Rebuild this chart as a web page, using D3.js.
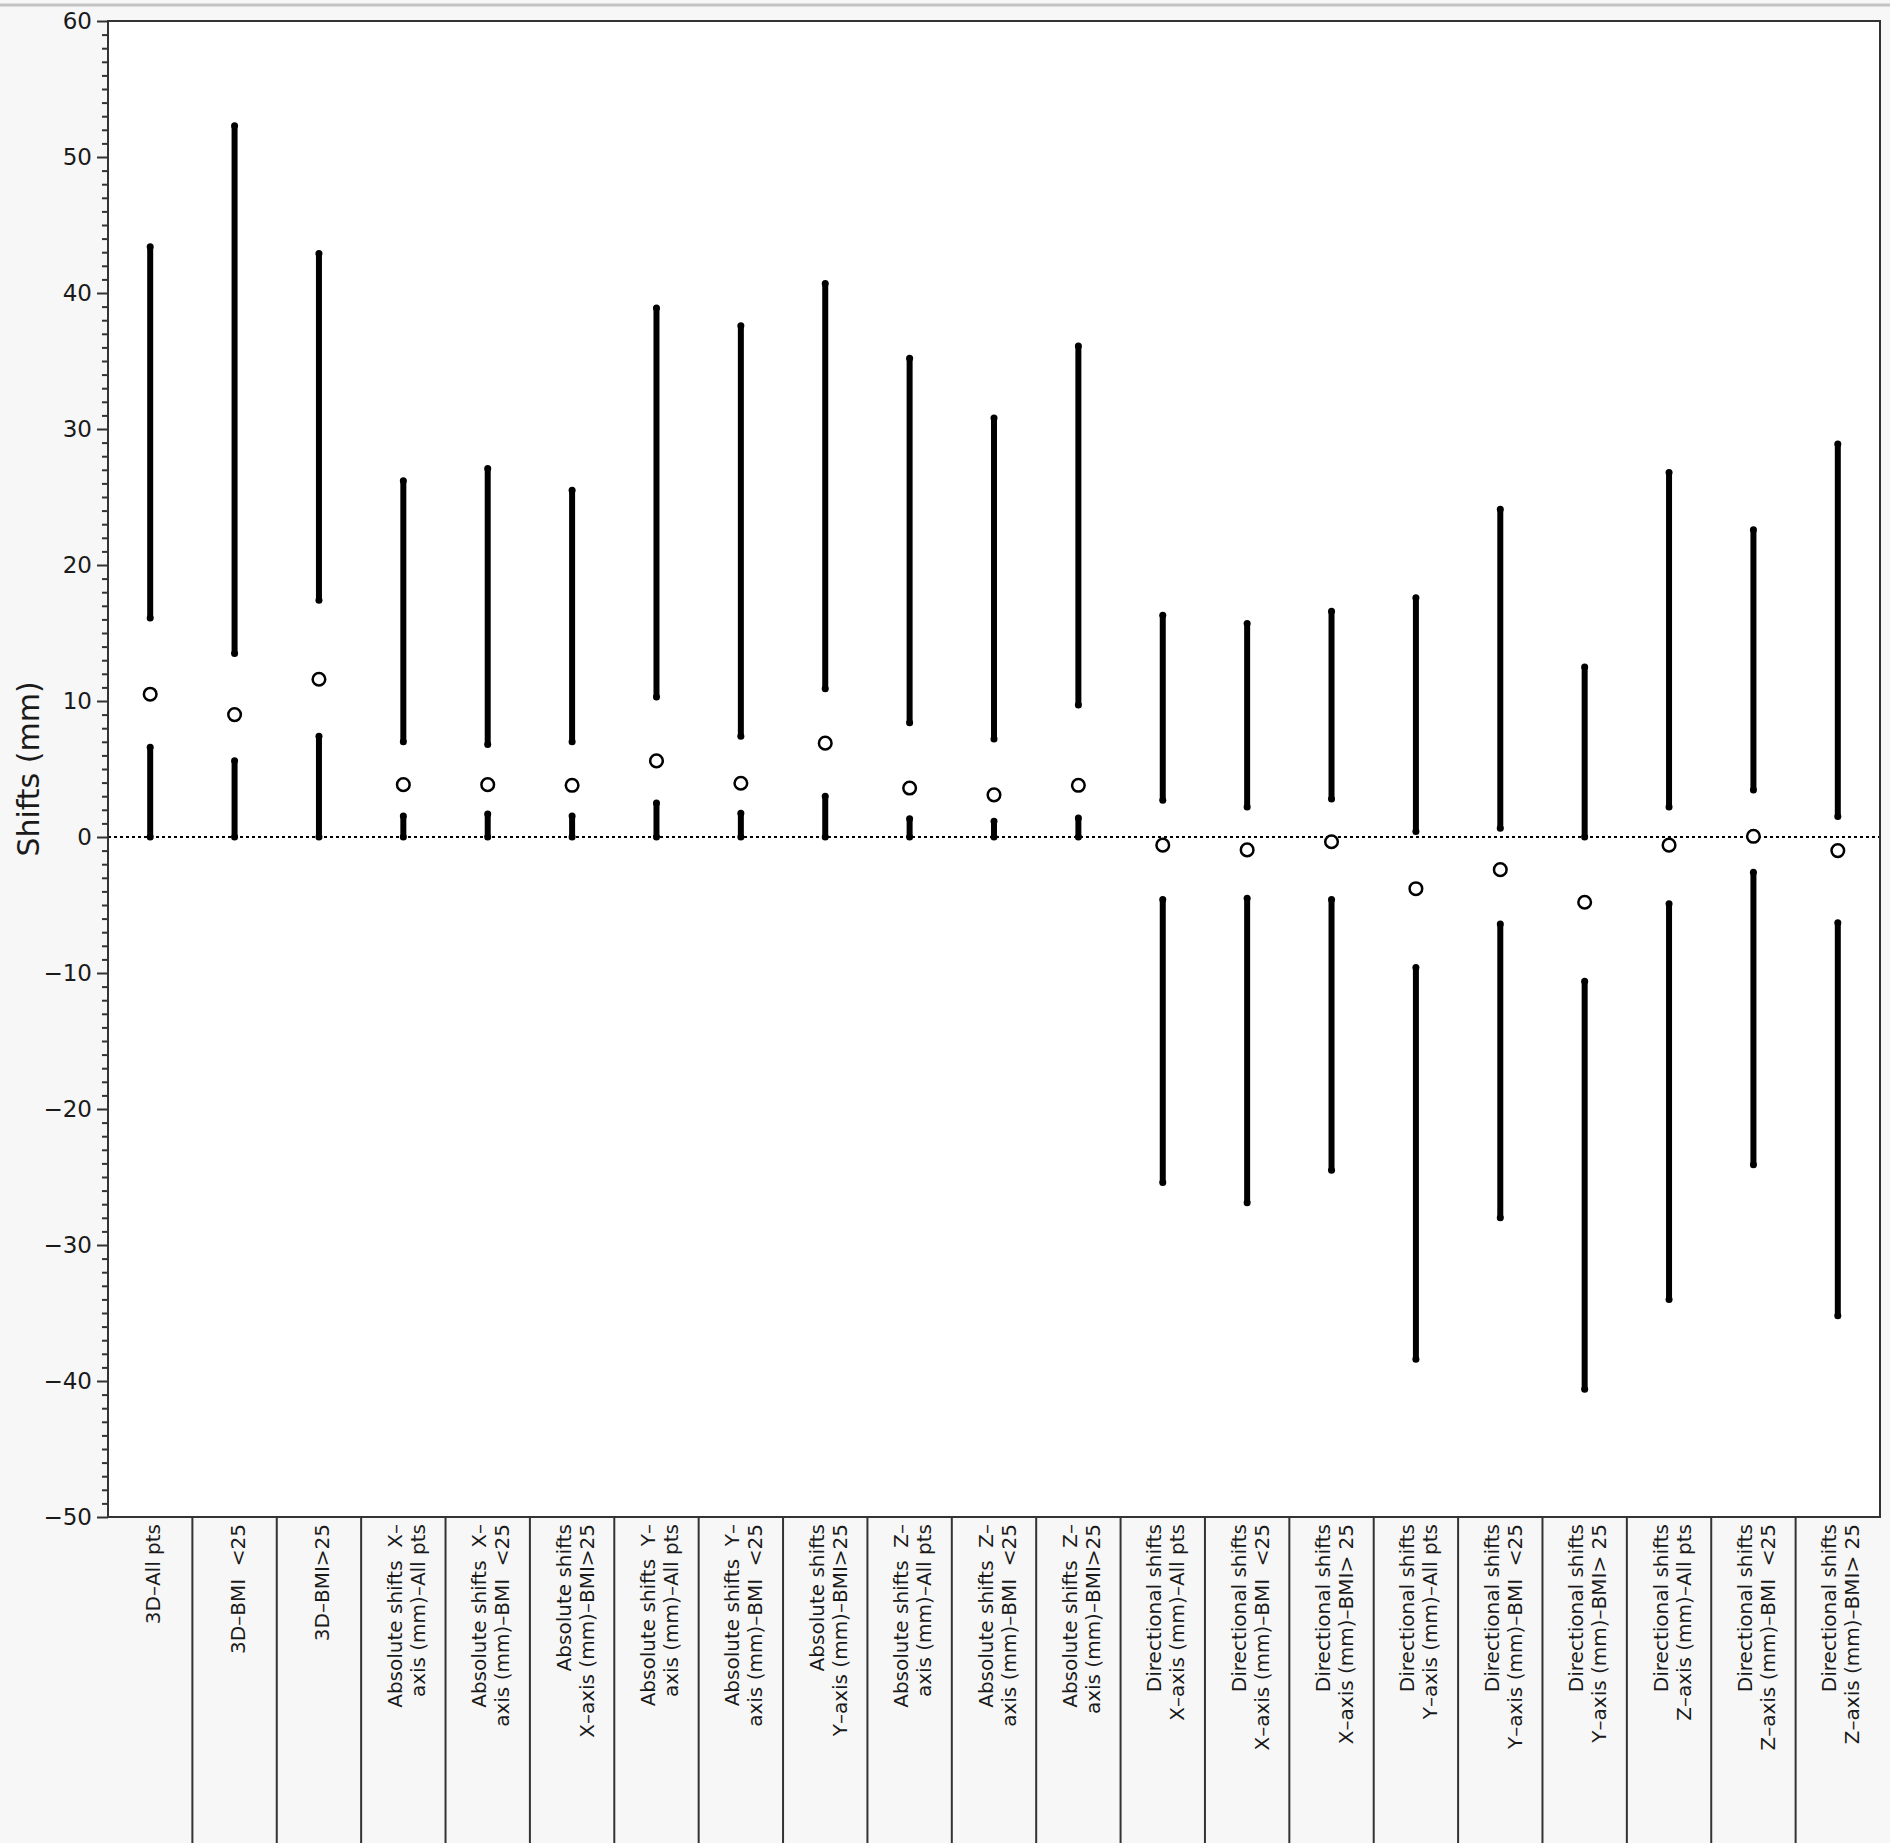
<!DOCTYPE html>
<html>
<head>
<meta charset="utf-8">
<script src="https://cdn.jsdelivr.net/npm/d3@7"></script>
<style>
  body { margin: 0; background: #f7f7f7; }
  svg { display: block; }
  text { white-space: pre; }
</style>
</head>
<body>
<div class="canvas"></div>
<script>
// categories, one entry per column (lines of the rotated label)
const categories = [
  ['3D–All pts'],
  ['3D–BMI  <25'],
  ['3D–BMI>25'],
  ['Absolute shifts  X–', 'axis (mm)–All pts'],
  ['Absolute shifts  X–', 'axis (mm)–BMI  <25'],
  ['Absolute shifts', 'X–axis (mm)–BMI>25'],
  ['Absolute shifts  Y–', 'axis (mm)–All pts'],
  ['Absolute shifts  Y–', 'axis (mm)–BMI  <25'],
  ['Absolute shifts', 'Y–axis (mm)–BMI>25'],
  ['Absolute shifts  Z–', 'axis (mm)–All pts'],
  ['Absolute shifts  Z–', 'axis (mm)–BMI  <25'],
  ['Absolute shifts  Z–', 'axis (mm)–BMI>25'],
  ['Directional shifts', 'X–axis (mm)–All pts'],
  ['Directional shifts', 'X–axis (mm)–BMI  <25'],
  ['Directional shifts', 'X–axis (mm)–BMI> 25'],
  ['Directional shifts', 'Y–axis (mm)–All pts'],
  ['Directional shifts', 'Y–axis (mm)–BMI  <25'],
  ['Directional shifts', 'Y–axis (mm)–BMI> 25'],
  ['Directional shifts', 'Z–axis (mm)–All pts'],
  ['Directional shifts', 'Z–axis (mm)–BMI  <25'],
  ['Directional shifts', 'Z–axis (mm)–BMI> 25']
];

// lower bar (min -> lowEnd), mean circle, upper bar (highStart -> max)
const minVals   = [0, 0, 0, 0, 0, 0, 0, 0, 0, 0, 0, 0, -25.4, -26.9, -24.5, -38.4, -28.0, -40.6, -34.0, -24.1, -35.2];
const lowEnd    = [6.6, 5.6, 7.4, 1.55, 1.7, 1.55, 2.5, 1.75, 3.0, 1.35, 1.15, 1.4, -4.6, -4.5, -4.6, -9.6, -6.4, -10.6, -4.9, -2.6, -6.3];
const means     = [10.5, 9.0, 11.6, 3.85, 3.85, 3.8, 5.6, 3.95, 6.9, 3.6, 3.1, 3.8, -0.6, -0.95, -0.35, -3.8, -2.4, -4.8, -0.6, 0.05, -1.0];
const highStart = [16.1, 13.5, 17.4, 7.0, 6.8, 7.0, 10.3, 7.4, 10.9, 8.4, 7.2, 9.7, 2.7, 2.2, 2.8, 0.4, 0.65, 0.0, 2.2, 3.45, 1.5];
const maxVals   = [43.4, 52.3, 42.9, 26.2, 27.1, 25.5, 38.9, 37.6, 40.7, 35.2, 30.8, 36.1, 16.3, 15.7, 16.6, 17.6, 24.1, 12.5, 26.8, 22.6, 28.9];

const majorTicks = [-50, -40, -30, -20, -10, 0, 10, 20, 30, 40, 50, 60];

const W = 1890, H = 1843;
const m = { t: 21, r: 10, b: 326, l: 108 };

const rows = categories.map((c, i) => ({
  i: i, label: c,
  min: minVals[i], lo: lowEnd[i], mean: means[i], hi: highStart[i], max: maxVals[i]
}));

const svg = d3.select('.canvas').append('svg')
  .attr('width', W)
  .attr('height', H);

// window strip on top
svg.append('line')
  .attr('x1', 0).attr('x2', W).attr('y1', 5).attr('y2', 5)
  .attr('stroke', '#c4c4c4').attr('stroke-width', 3);

const x = d3.scaleBand()
  .domain(rows.map(d => d.i))
  .range([m.l, W - m.r])
  .padding(0);

const y = d3.scaleLinear()
  .domain([-50, 60])
  .range([H - m.b, m.t]);

// plot area
svg.append('rect')
  .attr('x', m.l).attr('y', m.t)
  .attr('width', W - m.r - m.l).attr('height', H - m.b - m.t)
  .attr('fill', '#fff');

// minor ticks
svg.append('g')
  .attr('transform', `translate(${m.l},0)`)
  .call(d3.axisLeft(y)
    .tickValues(d3.range(-50, 61, 1).filter(v => v % 10 !== 0))
    .tickSize(6).tickFormat(''))
  .call(g => g.select('.domain').remove())
  .call(g => g.selectAll('line').attr('stroke', '#333').attr('stroke-width', 2));

// major ticks
svg.append('g')
  .attr('transform', `translate(${m.l},0)`)
  .call(d3.axisLeft(y).tickValues(majorTicks).tickSize(11).tickPadding(5))
  .call(g => g.select('.domain').remove())
  .call(g => g.selectAll('line').attr('stroke', '#333').attr('stroke-width', 2))
  .call(g => g.selectAll('text')
    .attr('font-family', 'DejaVu Sans')
    .attr('font-size', 23)
    .attr('fill', '#1a1a1a'));

// y title
svg.append('text')
  .attr('transform', `translate(39,${(m.t + H - m.b) / 2}) rotate(-90)`)
  .attr('text-anchor', 'middle')
  .attr('font-family', 'DejaVu Sans')
  .attr('font-size', 30)
  .attr('fill', '#1a1a1a')
  .text('Shifts (mm)');

// zero reference line
svg.append('line')
  .attr('x1', m.l).attr('x2', W - m.r)
  .attr('y1', y(0)).attr('y2', y(0))
  .attr('stroke', '#000').attr('stroke-width', 2)
  .attr('stroke-dasharray', '3,3');

// bars
const marks = svg.append('g').attr('class', 'marks');
const cx = d => x(d.i) + x.bandwidth() / 2;

const segs = [];
rows.forEach(d => {
  segs.push({ d: d, a: d.min, b: d.lo });
  segs.push({ d: d, a: d.hi, b: d.max });
});

marks.selectAll('.bar')
  .data(segs)
  .enter()
  .append('line')
  .attr('class', 'bar')
  .attr('x1', s => cx(s.d)).attr('x2', s => cx(s.d))
  .attr('y1', s => y(s.a)).attr('y2', s => y(s.b))
  .attr('stroke', '#000')
  .attr('stroke-width', 6);

const ends = [];
segs.forEach(s => { ends.push({ d: s.d, v: s.a }); ends.push({ d: s.d, v: s.b }); });
marks.selectAll('.cap')
  .data(ends)
  .enter()
  .append('circle')
  .attr('class', 'cap')
  .attr('cx', e => cx(e.d))
  .attr('cy', e => y(e.v))
  .attr('r', 3.5)
  .attr('fill', '#000');

marks.selectAll('.mean')
  .data(rows)
  .enter()
  .append('circle')
  .attr('class', 'mean')
  .attr('cx', cx)
  .attr('cy', d => y(d.mean))
  .attr('r', 6.3)
  .attr('fill', '#fff')
  .attr('stroke', '#000')
  .attr('stroke-width', 2.5);

// frame
svg.append('rect')
  .attr('x', m.l).attr('y', m.t)
  .attr('width', W - m.r - m.l).attr('height', H - m.b - m.t)
  .attr('fill', 'none')
  .attr('stroke', '#333')
  .attr('stroke-width', 2);

// label cells
svg.append('g')
  .selectAll('.divider')
  .data(rows.slice(1))
  .enter()
  .append('line')
  .attr('class', 'divider')
  .attr('x1', d => x(d.i)).attr('x2', d => x(d.i))
  .attr('y1', H - m.b).attr('y2', H)
  .attr('stroke', '#333')
  .attr('stroke-width', 2);

const labels = svg.append('g')
  .selectAll('.label')
  .data(rows)
  .enter()
  .append('text')
  .attr('class', 'label')
  .attr('transform', d => `translate(${cx(d) + 3},${H - m.b + 7}) rotate(-90)`)
  .attr('text-anchor', 'end')
  .attr('font-family', 'DejaVu Sans')
  .attr('font-size', 20)
  .attr('fill', '#1a1a1a');

labels.selectAll('tspan')
  .data(d => d.label.map((t, k) => ({ t: t, k: k, n: d.label.length })))
  .enter()
  .append('tspan')
  .attr('x', 0)
  .attr('y', l => (l.k - (l.n - 1) / 2) * 23)
  .attr('dy', '0.35em')
  .text(l => l.t);
</script>
</body>
</html>
